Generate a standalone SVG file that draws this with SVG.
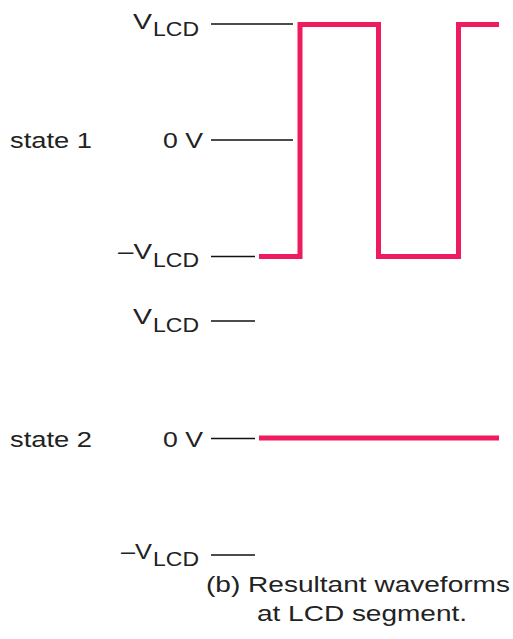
<svg xmlns="http://www.w3.org/2000/svg" width="513" height="639" viewBox="0 0 513 639">
<style>
text{font-family:"Liberation Sans",Arial,sans-serif;font-size:22px;fill:#222}
.sub{font-size:20px}
.tick{stroke:#111;stroke-width:1.3;fill:none}
.wave{stroke:#EE1C5E;stroke-width:5;fill:none;stroke-linejoin:miter;stroke-linecap:butt}
</style>
<rect width="513" height="639" fill="#fff"/>
<g id="labels-state1">
<text x="10" y="148" textLength="82" lengthAdjust="spacingAndGlyphs">state 1</text>
<text x="133" y="28.5" textLength="19" lengthAdjust="spacingAndGlyphs">V</text>
<text class="sub" x="153" y="36" textLength="46" lengthAdjust="spacingAndGlyphs">LCD</text>
<text x="163" y="148" textLength="40" lengthAdjust="spacingAndGlyphs">0 V</text>
<text x="118" y="259" textLength="34" lengthAdjust="spacingAndGlyphs">–V</text>
<text class="sub" x="153" y="267" textLength="46" lengthAdjust="spacingAndGlyphs">LCD</text>
</g>
<g id="labels-state2">
<text x="10" y="447" textLength="82" lengthAdjust="spacingAndGlyphs">state 2</text>
<text x="133" y="324" textLength="19" lengthAdjust="spacingAndGlyphs">V</text>
<text class="sub" x="153" y="331.5" textLength="46" lengthAdjust="spacingAndGlyphs">LCD</text>
<text x="163" y="447" textLength="40" lengthAdjust="spacingAndGlyphs">0 V</text>
<text x="121" y="558.5" textLength="31" lengthAdjust="spacingAndGlyphs">–V</text>
<text class="sub" x="153" y="566" textLength="46" lengthAdjust="spacingAndGlyphs">LCD</text>
</g>
<g id="caption">
<text x="206" y="592" textLength="304" lengthAdjust="spacingAndGlyphs">(b) Resultant waveforms</text>
<text x="257" y="621" textLength="210" lengthAdjust="spacingAndGlyphs">at LCD segment.</text>
</g>
<g id="connectors">
<line class="tick" x1="211" y1="24" x2="293" y2="24"/>
<line class="tick" x1="211" y1="140" x2="293" y2="140"/>
<line class="tick" x1="211" y1="256.5" x2="255" y2="256.5"/>
<line class="tick" x1="211" y1="321" x2="255" y2="321"/>
<line class="tick" x1="211" y1="438.5" x2="255" y2="438.5"/>
<line class="tick" x1="211" y1="555" x2="255" y2="555"/>
</g>
<g id="wave1">
<polyline class="wave" points="259,256.5 300,256.5 300,24.5 378.5,24.5 378.5,256.5 458.5,256.5 458.5,24.5 499,24.5"/>
</g>
<g id="wave2">
<line class="wave" x1="259" y1="438" x2="499" y2="438"/>
</g>
</svg>
